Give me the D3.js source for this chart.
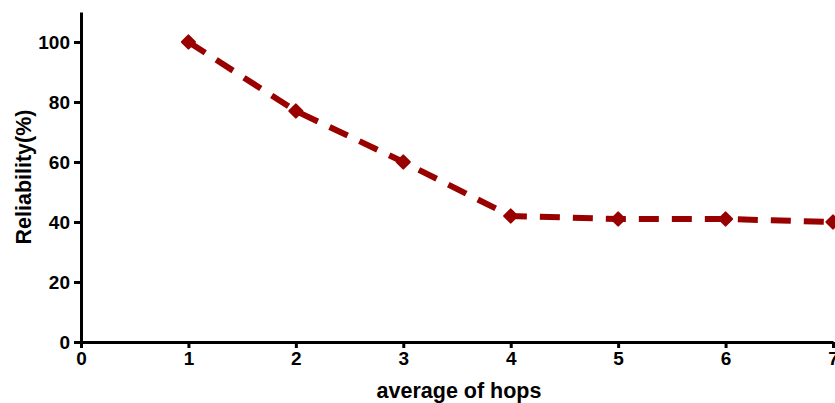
<!DOCTYPE html>
<html><head><meta charset="utf-8">
<script src="https://cdn.jsdelivr.net/npm/d3@7"></script>
<style>body{margin:0;background:#fff}svg{display:block}</style>
</head><body>
<svg id="c" width="835" height="403"></svg>
<script>
const hops = [1, 2, 3, 4, 5, 6, 7];
const reliability = [100, 77, 60, 42, 41, 41, 40];
const xTicks = [0, 1, 2, 3, 4, 5, 6, 7];
const yTicks = [0, 20, 40, 60, 80, 100];

const svg = d3.select("#c");
const x = d3.scaleLinear().domain([0, 7]).range([81, 833]);
const y = d3.scaleLinear().domain([0, 110]).range([342, 12]);
const font = "Arial, 'Liberation Sans', sans-serif";

const xAxis = svg.append("g").attr("transform", "translate(0,342)")
  .call(d3.axisBottom(x).tickValues(xTicks).tickFormat(d3.format("d")).tickSize(6).tickPadding(4).tickSizeOuter(0));
const yAxis = svg.append("g").attr("transform", "translate(81,0)")
  .call(d3.axisLeft(y).tickValues(yTicks).tickFormat(d3.format("d")).tickSize(7).tickPadding(4).tickSizeOuter(0));
[xAxis, yAxis].forEach(a => {
  a.select(".domain").attr("stroke", "#000").attr("stroke-width", 3);
  a.selectAll(".tick line").attr("stroke", "#000").attr("stroke-width", 3);
  a.selectAll("text").attr("fill", "#000").style("font-family", font).style("font-weight", "bold").style("font-size", "19px");
});

const pts = hops.map((h, i) => [h, reliability[i]]);
const line = d3.line().x(d => x(d[0])).y(d => y(d[1]));
svg.append("path").datum(pts).attr("d", line)
  .attr("fill", "none").attr("stroke", "#990000").attr("stroke-width", 6)
  .attr("stroke-dasharray", "20,13");

svg.selectAll(".m").data(pts).enter().append("path")
  .attr("transform", d => `translate(${x(d[0])},${y(d[1])})`)
  .attr("d", d3.symbol().type(d3.symbolDiamond2).size(110))
  .attr("fill", "#990000").attr("stroke", "#990000").attr("stroke-width", 2).attr("stroke-linejoin", "round");

svg.append("text").attr("x", 459).attr("y", 398).attr("text-anchor", "middle")
  .style("font-family", font).style("font-weight", "bold").style("font-size", "21.5px").text("average of hops");
svg.append("text").attr("transform", "translate(31,177) rotate(-90)").attr("text-anchor", "middle")
  .style("font-family", font).style("font-weight", "bold").style("font-size", "21.5px").text("Reliability(%)");
</script>
</body></html>
